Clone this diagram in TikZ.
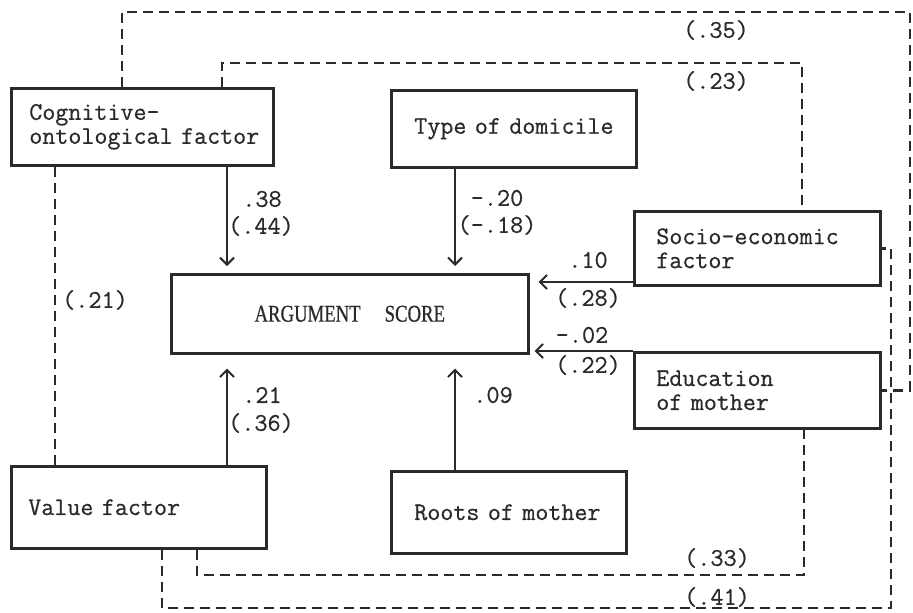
\documentclass[tikz,border=0pt]{standalone}
\usepackage{fontspec}
\usetikzlibrary{arrows.meta}
\newfontfamily\argfont[FakeStretch=0.78,FakeBold=0.6]{Liberation Serif}
\newfontfamily\tyfont[FakeBold=0.6]{Latin Modern Mono}
\newcommand{\boxfont}{\tyfont\fontsize{25.3}{24}\selectfont}
\newcommand{\labfont}{\tyfont\fontsize{25.5}{24}\selectfont}
\definecolor{ink}{HTML}{2A2A2A}
\begin{document}
\begin{tikzpicture}[x=1pt,y=-1pt,
  box/.style={draw=ink, line width=2.6pt, font=\boxfont, text=ink, align=left, inner ysep=0pt, anchor=north west},
  arr/.style={draw=ink, line width=2pt, -{Straight Barb[length=7pt,width=14pt,line width=2pt]}},
  dsh/.style={draw=ink, line width=2.6pt, dash pattern=on 10pt off 6pt},
  lab/.style={font=\labfont, text=ink, inner sep=0pt}]
\useasboundingbox[fill=white] (0,0) rectangle (913,613);

% boxes
\node[box, minimum width=262pt, minimum height=77pt, inner xsep=18pt, text width=226pt] (cog) at (10,87) {\mbox{Cognitive-}\\\mbox{ontological factor}};
\node[box, minimum width=245pt, minimum height=77pt, inner xsep=23pt, text width=199pt] (dom) at (390,89) {\mbox{Type of domicile}};
\node[box, minimum width=246pt, minimum height=74pt, inner xsep=22pt, text width=202pt] (soc) at (633,210) {\mbox{Socio-economic}\\\mbox{factor}};
\node[box, minimum width=246pt, minimum height=76pt, inner xsep=22pt, text width=202pt] (edu) at (633,351) {\mbox{Education}\\\mbox{of mother}};
\node[box, minimum width=357pt, minimum height=79pt, inner xsep=0pt, text width=357pt, align=center] (arg) at (170,273) {\argfont\fontsize{24}{24}\selectfont ARGUMENT\hspace{24pt}SCORE};
\node[box, minimum width=255pt, minimum height=82pt, inner xsep=17pt, text width=221pt] (val) at (10,465) {\mbox{Value factor}};
\node[box, minimum width=235pt, minimum height=82pt, inner xsep=23pt, text width=189pt] (roo) at (390,470) {\mbox{Roots of mother}};

% helper coordinates
\coordinate (a55) at (55,0);
\coordinate (a122) at (122,0);
\coordinate (a162) at (162,0);
\coordinate (a197) at (197,0);
\coordinate (a222) at (222,0);
\coordinate (a227) at (227,0);
\coordinate (a455) at (455,0);
\coordinate (h282) at (0,282);
\coordinate (h351) at (0,351);
\coordinate (p35) at (910,12);
\coordinate (p23) at (802,63);
\coordinate (p33) at (804,575);
\coordinate (p41) at (891,608);

% solid arrows
\draw[arr, shorten >=7pt] (cog.south -| a227) -- (arg.north -| a227);
\draw[arr, shorten >=7pt] (dom.south -| a455) -- (arg.north -| a455);
\draw[arr, shorten >=9pt] (soc.west |- h282) -- (arg.east |- h282);
\draw[arr, shorten >=5pt] (edu.west |- h351) -- (arg.east |- h351);
\draw[arr, shorten >=14pt] (val.north -| a227) -- (arg.south -| a227);
\draw[arr, shorten >=14pt] (roo.north -| a455) -- (arg.south -| a455);

% dashed correlations
\draw[dsh] (cog.north -| a122) |- (p35) |- (edu.east);
\draw[dsh] (cog.north -| a222) |- (p23) -- (soc.north -| p23);
\draw[dsh] (cog.south -| a55) -- (val.north -| a55);
\draw[dsh] (val.south -| a197) |- (p33) -- (edu.south -| p33);
\draw[dsh] (val.south -| a162) |- (p41) |- (soc.east);

% labels
\node[lab] (l35) at (716,30) {(.35)};
\node[lab] (l23) at (716,81) {(.23)};
\node[lab] (l21) at (95,300) {(.21)};
\node[lab] (l38) at (262,199) {.38};
\node[lab] (l44) at (261,226) {(.44)};
\node[lab] (l20) at (497,198) {-.20};
\node[lab] (l18) at (497,225) {(-.18)};
\node[lab] (l10) at (588,260) {.10};
\node[lab] (l28) at (588,298) {(.28)};
\node[lab] (l02) at (582,335) {-.02};
\node[lab] (l22) at (588,365) {(.22)};
\node[lab] (l21b) at (262,395) {.21};
\node[lab] (l36) at (261,423) {(.36)};
\node[lab] (l09) at (493,395) {.09};
\node[lab] (l33) at (717,558) {(.33)};
\node[lab] (l41) at (717,597) {(.41)};
\end{tikzpicture}
\end{document}
